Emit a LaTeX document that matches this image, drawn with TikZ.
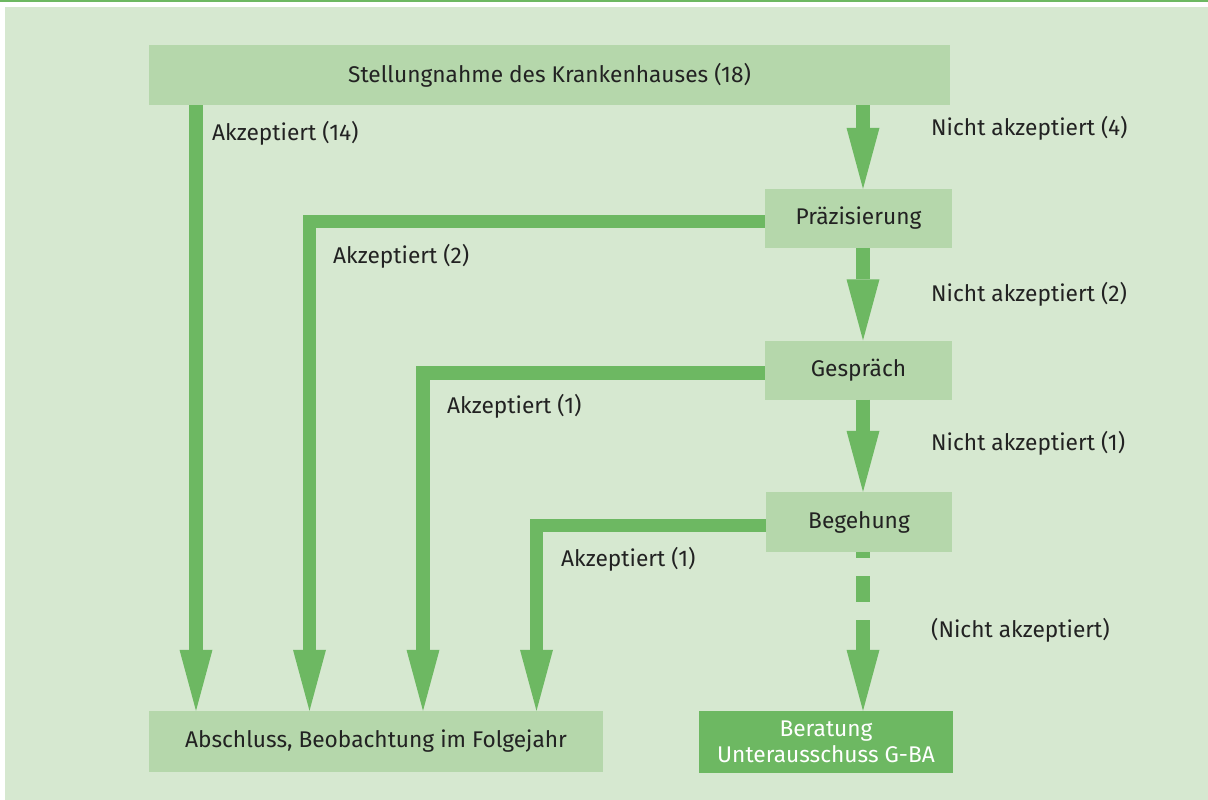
\documentclass[tikz,border=0pt]{standalone}
\usepackage{fontspec}
\setmainfont{Fira Sans}
\usetikzlibrary{arrows.meta}
\definecolor{bgc}{HTML}{D6E8D0}
\definecolor{boxc}{HTML}{B5D7AB}
\definecolor{arrc}{HTML}{6DB862}
\definecolor{txtc}{HTML}{222222}
\begin{document}
\begin{tikzpicture}[x=1pt,y=-1pt,
  box/.style={fill=boxc, inner sep=0pt, minimum height=60pt, text=txtc, font=\fontsize{22.7}{26}\selectfont},
  darkbox/.style={fill=arrc, inner sep=0pt, minimum height=62pt, text=white, align=center, font=\fontsize{22.7}{26}\selectfont},
  conn/.style={draw=arrc, line width=13.5pt, line join=miter},
  tipped/.style={-{Triangle[length=61pt,width=33pt,line width=0pt]}},
  lbl/.style={anchor=west, inner sep=0pt, text=txtc, font=\fontsize{22.7}{26}\selectfont}]
\useasboundingbox (0,0) rectangle (1208,800);
\fill[white] (0,0) rectangle (1208,800);
\fill[arrc] (0,0) rectangle (1208,2.3);
\fill[bgc] (5,7) rectangle (1208,800);

% boxes
\node[box, minimum width=801pt] (top) at (549.5,75) {Stellungnahme des Krankenhauses (18)};
\node[box, minimum width=187pt, minimum height=59pt] (prae) at (858.5,218.5) {Präzisierung};
\node[box, minimum width=187pt, minimum height=59pt] (gesp) at (858.5,370) {Gespräch};
\node[box, minimum width=186pt, minimum height=60pt] (bege) at (859,522) {Begehung};
\node[box, minimum width=454pt, minimum height=61pt] (absch) at (376,741.5) {Abschluss, Beobachtung im Folgejahr};
\node[darkbox, minimum width=254pt] (bera) at (826,742) {Beratung\\Unterausschuss G-BA};

% vertical main chain
\draw[conn,tipped] (top.south -| 863,0) -- (prae.north -| 863,0);
\draw[conn,tipped] (prae.south -| 863,0) -- (gesp.north -| 863,0);
\draw[conn,tipped] (gesp.south -| 863,0) -- (bege.north -| 863,0);
\coordinate (dashend) at (863,620);
\draw[conn, dash pattern=on 26pt off 18pt, dash phase=20pt] (bege.south -| 863,0) -- (dashend);
\draw[conn,tipped] (dashend) -- (bera.north -| 863,0);

% accepted branches
\draw[conn,tipped] (top.south -| 196,0) -- (absch.north -| 196,0);
\draw[conn,tipped] ([yshift=-3pt]prae.west) -| (absch.north -| 309.5,0);
\draw[conn,tipped] ([yshift=-3pt]gesp.west) -| (absch.north -| 423,0);
\draw[conn,tipped] ([yshift=-3.5pt]bege.west) -| (absch.north -| 536.5,0);

% labels
\node[lbl] (l1) at (212,133) {Akzeptiert (14)};
\node[lbl] (l2) at (931,128) {Nicht akzeptiert (4)};
\node[lbl] (l3) at (333,256) {Akzeptiert (2)};
\node[lbl] (l4) at (931,294) {Nicht akzeptiert (2)};
\node[lbl] (l5) at (447,406) {Akzeptiert (1)};
\node[lbl] (l6) at (931,443) {Nicht akzeptiert (1)};
\node[lbl] (l7) at (561,559) {Akzeptiert (1)};
\node[lbl] (l8) at (931,630) {(Nicht akzeptiert)};
\end{tikzpicture}
\end{document}
